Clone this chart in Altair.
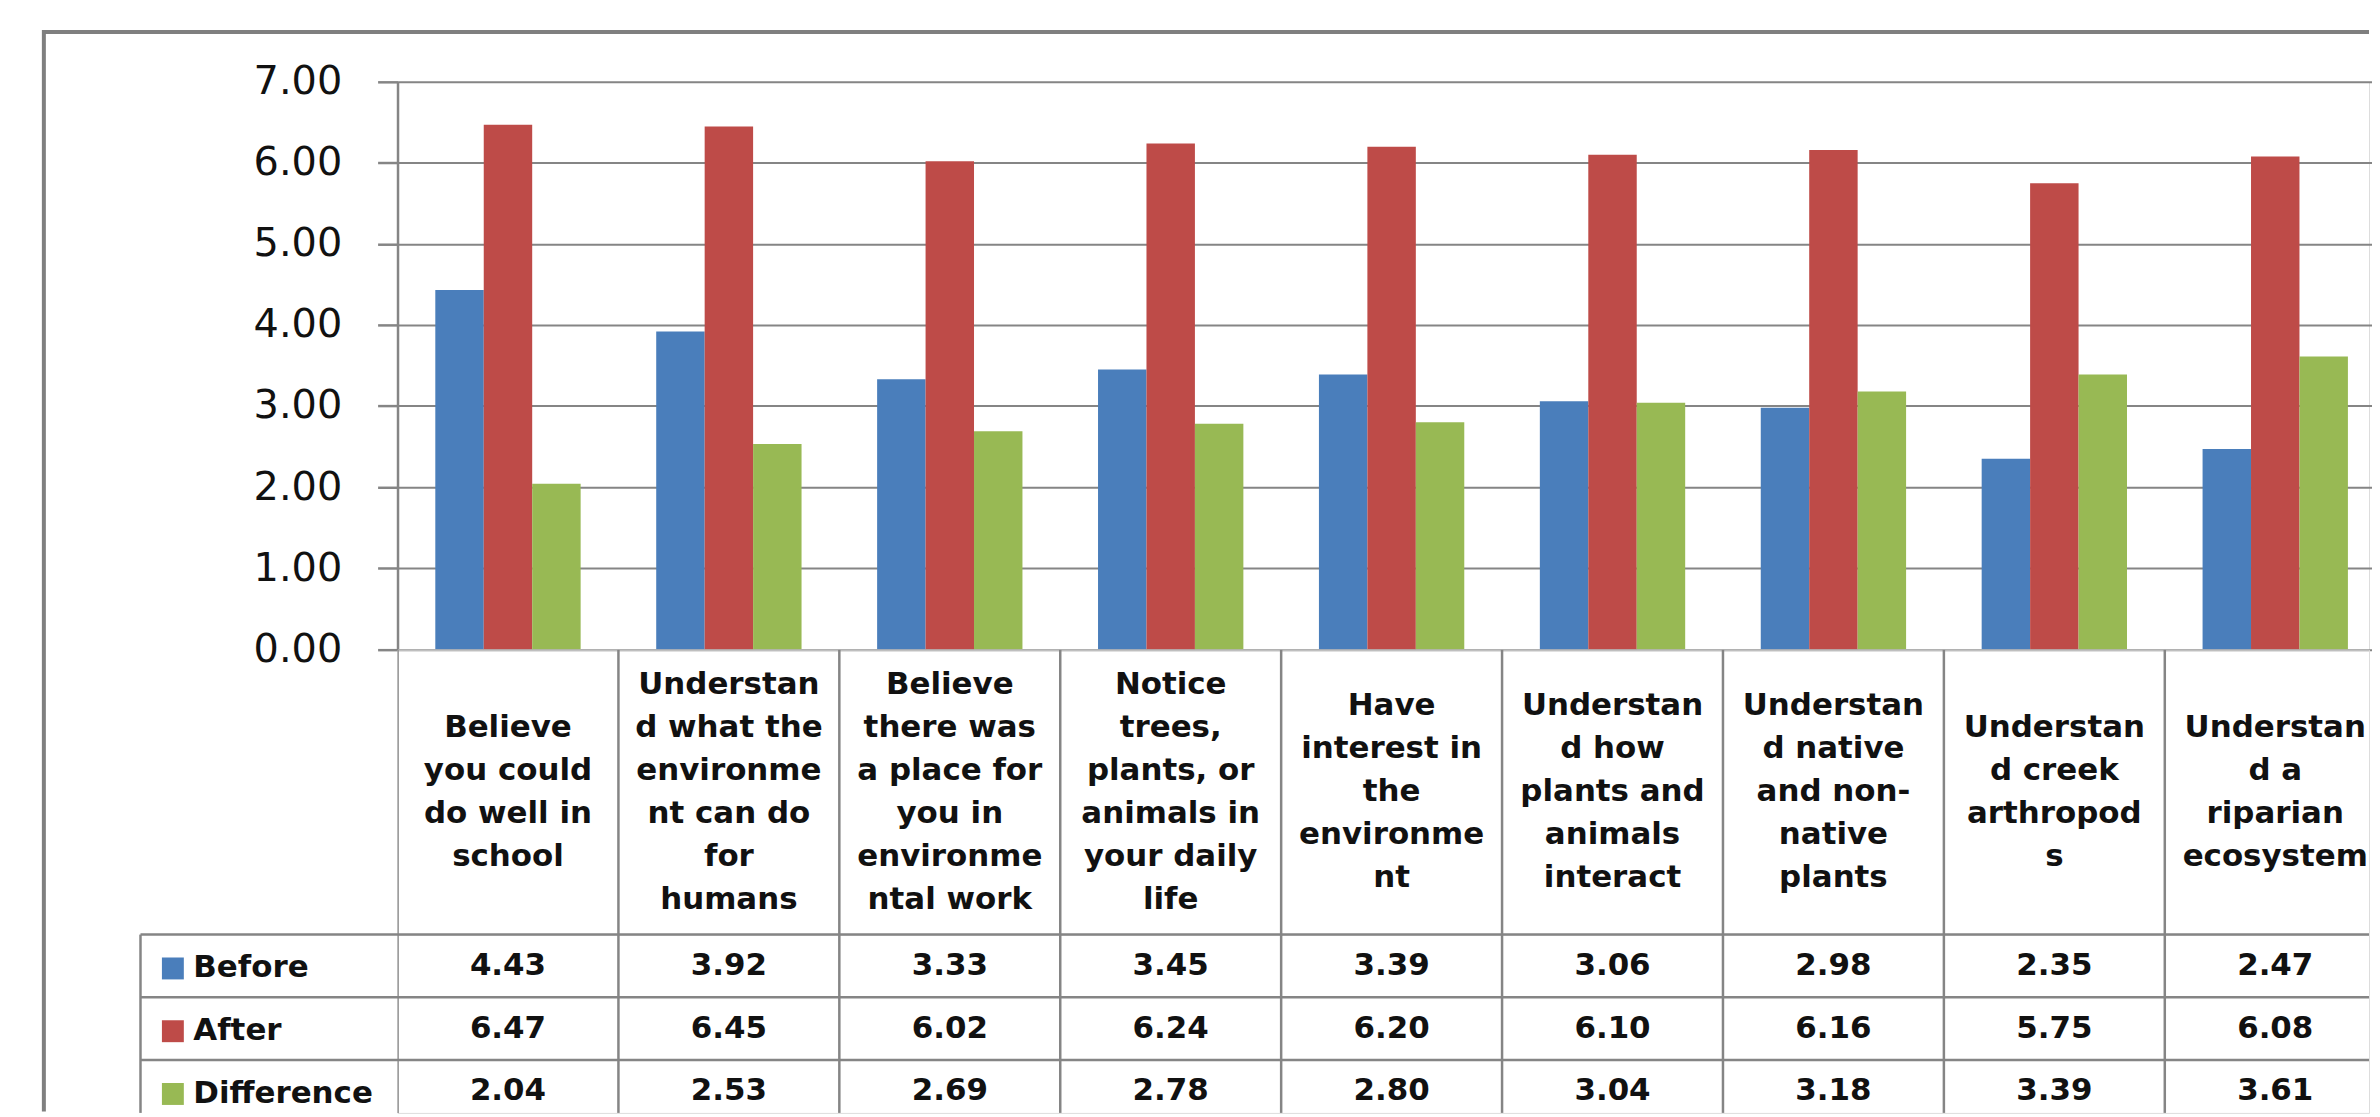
import altair as alt
import pandas as pd

# ---------------- data ----------------
categories = [
    "Believe you could do well in school",
    "Understand what the environment can do for humans",
    "Believe there was a place for you in environmental work",
    "Notice trees, plants, or animals in your daily life",
    "Have interest in the environment",
    "Understand how plants and animals interact",
    "Understand native and non-native plants",
    "Understand creek arthropods",
    "Understand a riparian ecosystem",
]
category_lines = [
    ["Believe", "you could", "do well in", "school"],
    ["Understan", "d what the", "environme", "nt can do", "for", "humans"],
    ["Believe", "there was", "a place for", "you in", "environme", "ntal work"],
    ["Notice", "trees,", "plants, or", "animals in", "your daily", "life"],
    ["Have", "interest in", "the", "environme", "nt"],
    ["Understan", "d how", "plants and", "animals", "interact"],
    ["Understan", "d native", "and non-", "native", "plants"],
    ["Understan", "d creek", "arthropod", "s"],
    ["Understan", "d a", "riparian", "ecosystem"],
]
series = ["Before", "After", "Difference"]
before = [4.43, 3.92, 3.33, 3.45, 3.39, 3.06, 2.98, 2.35, 2.47]
after = [6.47, 6.45, 6.02, 6.24, 6.20, 6.10, 6.16, 5.75, 6.08]
difference = [2.04, 2.53, 2.69, 2.78, 2.80, 3.04, 3.18, 3.39, 3.61]
y_ticks = [0, 1, 2, 3, 4, 5, 6, 7]
colors = ["#4A7EBB", "#BE4B48", "#98B954"]

# ---------------- tables ----------------
values_by_series = {"Before": before, "After": after, "Difference": difference}
long_rows = []
for s in series:
    for c, v in zip(categories, values_by_series[s]):
        long_rows.append({"cat": c, "series": s, "value": v})
df = pd.DataFrame(long_rows)

line_rows = []
for c, lines in zip(categories, category_lines):
    n = len(lines)
    for i, t in enumerate(lines):
        line_rows.append({"cat": c, "line": t, "pos": i - (n - 1) / 2})
df_lines = pd.DataFrame(line_rows)
df_cats = pd.DataFrame({"cat": categories})
df_series = pd.DataFrame({"series": series})
df_one = pd.DataFrame({"k": [0]})

# ---------------- style ----------------
FONT = "DejaVu Sans"
GRAY = "#858585"
LW = 2.5
W = 1979          # visible plot width
STEP = 221.75     # width of one category column
H_BARS = 569.5
H_LABELS = 286
LINE_H = 43.2
ROW = 63
H_TABLE = 179     # the last row runs past the bottom edge of the picture

x_scale = alt.Scale(domain=categories, range=[0, STEP * len(categories)], paddingInner=0, paddingOuter=0)
x_enc = alt.X("cat:N", scale=x_scale, axis=None, sort=categories)
x_start = alt.X("cat:N", scale=x_scale, axis=None, sort=categories, bandPosition=0)

# ---------------- panel A : bars ----------------
bars = alt.Chart(df).mark_bar().encode(
    x=x_enc,
    xOffset=alt.XOffset("series:N", sort=series,
                        scale=alt.Scale(domain=series, paddingInner=0, paddingOuter=0.78)),
    y=alt.Y("value:Q",
            scale=alt.Scale(domain=[0, 7], nice=False),
            axis=alt.Axis(values=y_ticks, format=".2f", title=None,
                          labelFont=FONT, labelFontSize=40, labelColor="#111111",
                          labelPadding=36, tickSize=20, tickColor=GRAY, tickWidth=LW,
                          domainColor=GRAY, domainWidth=LW,
                          grid=True, gridColor=GRAY, gridWidth=2)),
    color=alt.Color("series:N", sort=series,
                    scale=alt.Scale(domain=series, range=colors),
                    legend=alt.Legend(orient="none", legendX=-241, legendY=874.5, title=None,
                                      direction="vertical", symbolType="square",
                                      symbolSize=484, symbolStrokeWidth=0,
                                      labelFont=FONT, labelFontSize=31, labelFontWeight="bold",
                                      labelColor="#111111", labelOffset=5, labelLimit=400,
                                      rowPadding=ROW - 32, padding=0)),
)
frame_top = alt.Chart(df_one).mark_rule(color="#7f7f7f", strokeWidth=4).encode(
    x=alt.value(-355), x2=alt.value(W), y=alt.value(-50))
frame_left = alt.Chart(df_one).mark_rule(color="#7f7f7f", strokeWidth=4).encode(
    x=alt.value(-355), y=alt.value(-52), y2=alt.value(1114 - 80.5))
panel_a = alt.layer(bars, frame_top, frame_left).properties(width=W, height=H_BARS)

# ---------------- panel B : category labels ----------------
half = H_LABELS / 2 / LINE_H
labels = alt.Chart(df_lines).mark_text(
    font=FONT, fontSize=31, fontWeight="bold", color="#111111",
    align="center", baseline="middle", clip=True,
).encode(
    x=x_enc,
    y=alt.Y("pos:Q", scale=alt.Scale(domain=[-half, half], reverse=True, nice=False, zero=False),
            axis=None),
    text="line:N",
)
dividers_b = alt.Chart(df_cats).mark_rule(color=GRAY, strokeWidth=LW, clip=True).encode(x=x_start)
panel_b = alt.layer(labels, dividers_b).properties(width=W, height=H_LABELS)

# ---------------- panel C : data table ----------------
row_scale = alt.Scale(domain=series, range=[0, ROW * len(series)], paddingInner=0, paddingOuter=0)
cells = alt.Chart(df).mark_text(
    font=FONT, fontSize=31, fontWeight="bold", color="#111111",
    align="center", baseline="middle",
).encode(
    x=x_enc,
    y=alt.Y("series:N", sort=series, scale=row_scale, axis=None),
    text=alt.Text("value:Q", format=".2f"),
)
row_lines = alt.Chart(df_series).mark_rule(color=GRAY, strokeWidth=LW).encode(
    y=alt.Y("series:N", sort=series, scale=row_scale, axis=None, bandPosition=0),
    x=alt.value(-258), x2=alt.value(W),
)
dividers_c = alt.Chart(df_cats).mark_rule(color=GRAY, strokeWidth=LW, clip=True).encode(x=x_start)
left_border = alt.Chart(df_one).mark_rule(color=GRAY, strokeWidth=LW).encode(x=alt.value(-258))
panel_c = alt.layer(cells, row_lines, dividers_c, left_border).properties(width=W, height=H_TABLE)

chart = (
    alt.vconcat(panel_a, panel_b, panel_c, spacing=0, bounds="flush")
    .resolve_legend(color="independent")
    .properties(padding={"left": 33, "top": 17, "right": 0, "bottom": 0}, background="white")
    .configure_view(stroke=None)
    .configure(font=FONT)
)

chart.save("out.html", embed_options={"renderer": "svg", "actions": False})
